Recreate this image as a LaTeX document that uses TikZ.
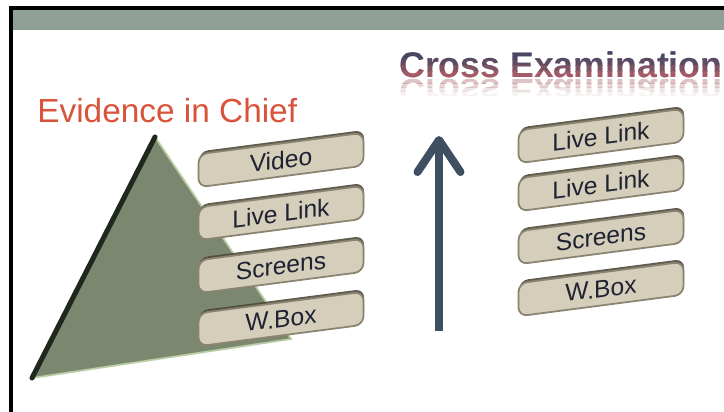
\documentclass[tikz,border=0pt]{standalone}
\usepackage{fontspec}
\setmainfont{Liberation Sans}
\usetikzlibrary{arrows.meta, shadows}

\definecolor{barcolor}{HTML}{91A096}
\definecolor{chiefred}{HTML}{D9533B}
\definecolor{titlenavy}{HTML}{3E4462}
\definecolor{titlerose}{HTML}{BE6268}
\definecolor{boxfill}{HTML}{D5CEBB}
\definecolor{boxedge}{HTML}{8A8470}
\definecolor{boxtop}{HTML}{4F4B3C}
\definecolor{boxtext}{HTML}{1E2232}
\definecolor{trifill}{HTML}{7C876F}
\definecolor{triedge}{HTML}{20271C}
\definecolor{trihigh}{HTML}{B9CDA5}
\definecolor{arrowcol}{HTML}{3E4F62}

\begin{document}
\begin{tikzpicture}[
    x=0.02cm, y=-0.02cm,
    stepbox/.style={draw=boxedge, line width=1pt, fill=boxfill, rounded corners=5pt,
        minimum width=3.3cm, minimum height=0.66cm, inner sep=0pt, yslant=0.13,
        drop shadow={shadow xshift=0.4pt, shadow yshift=1.6pt, fill=boxtop, opacity=0.9},
        font=\fontsize{14}{16}\selectfont, text=boxtext},
    crosstitle/.style={anchor=base west, inner sep=0pt, font=\fontsize{20.3}{24}\selectfont\bfseries},
    >=Stealth
]

\clip (0,0) rectangle (724,412);
\fill[white] (0,0) rectangle (724,412);

% frame and title bar
\fill[barcolor] (12,9) rectangle (724,30);
\draw[black, line width=2.5pt] (11,412) -- (11,8) -- (724,8);

% titles
\node[anchor=base west, inner sep=0pt, text=chiefred, font=\fontsize{19}{22}\selectfont] (chief) at (37,123) {Evidence in Chief};

\foreach \k/\mix in {0/100, 1/100, 2/92, 3/75, 4/50, 5/22, 6/0} {
    \begin{scope}
        \clip (390,{42+6*\k}) rectangle (724,{48+6*\k});
        \node[crosstitle, text=titlenavy!\mix!titlerose] (cross\k) at (399,78) {Cross Examination};
    \end{scope}
}
\foreach \k/\op in {0/0.4, 1/0.28, 2/0.17, 3/0.08} {
    \begin{scope}
        \clip (390,{80+4*\k}) rectangle (724,{84+4*\k});
        \node[crosstitle, yscale=-1, text=titlerose!70!gray, text opacity=\op] (refl\k) at (399,80) {Cross Examination};
    \end{scope}
}

% triangle
\coordinate (apex) at (155,137);
\coordinate (baseL) at (32,378);
\coordinate (baseR) at (291,339);
\fill[trifill] (apex) -- (baseL) -- (baseR) -- cycle;
\draw[trihigh, line width=1pt] (baseL) -- (baseR) -- (apex);
\draw[triedge, line width=0.1cm, line cap=round] (apex) -- (baseL);

% left boxes
\foreach \name/\txt/\y in {video/Video/160, link/Live Link/213, screens/Screens/266, wbox/W.Box/319} {
    \node[stepbox] (ev\name) at (281,\y) {\txt};
}

% arrow
\coordinate (foot) at (439,331);
\coordinate (tip) at (439,136);
\draw[arrowcol, line width=0.16cm, -{Straight Barb[length=0.64cm, width=0.86cm, round]}] (foot) -- (tip);

% right boxes
\foreach \name/\txt/\y in {linka/Live Link/136, linkb/Live Link/184, screens/Screens/237, wbox/W.Box/289} {
    \node[stepbox] (cx\name) at (601,\y) {\txt};
}

\end{tikzpicture}
\end{document}
